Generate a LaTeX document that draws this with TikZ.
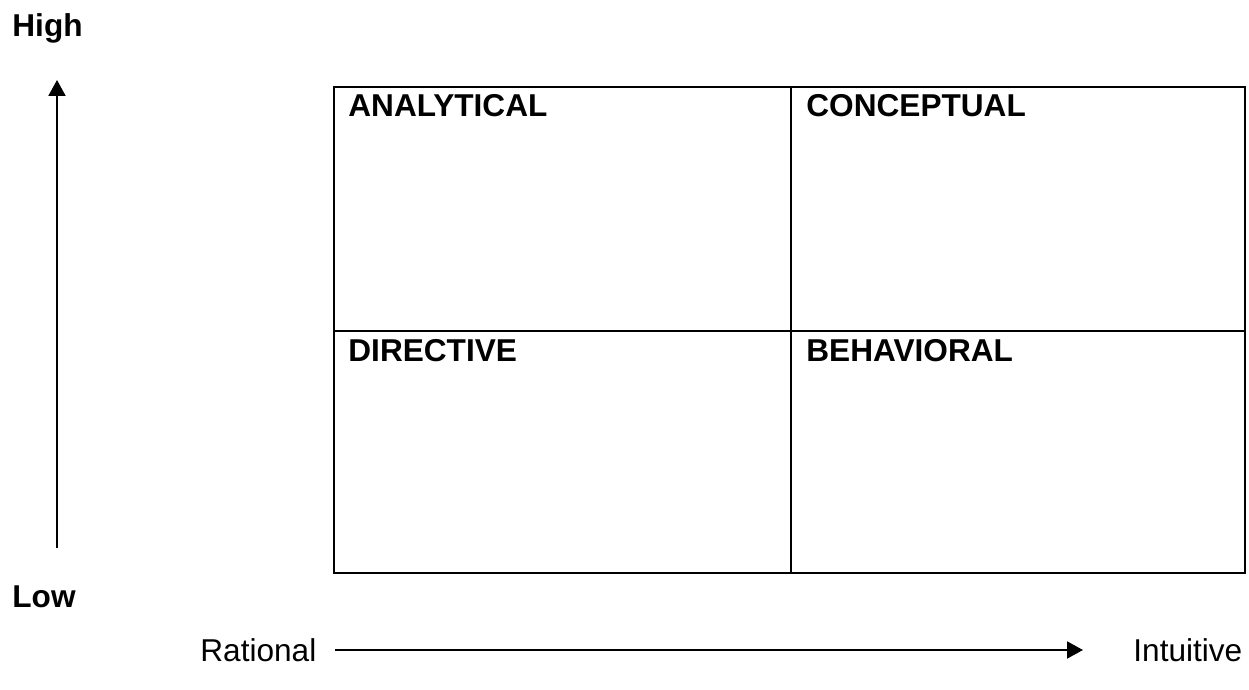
\documentclass[tikz,border=0pt]{standalone}
\usepackage{fontspec}
\setmainfont{Liberation Sans}
\usetikzlibrary{arrows.meta}

\begin{document}
\begin{tikzpicture}[x=0.5pt,y=-0.5pt,
  lbl/.style={anchor=base west,inner sep=0pt,font=\fontsize{15.8}{19}\selectfont},
  cell/.style={lbl,font=\fontsize{15.8}{19}\selectfont\bfseries},
  axis/.style={line width=1pt,-{Triangle[length=8pt,width=8.5pt]}}]
  \useasboundingbox (0,0) rectangle (1249,690);
  % the four quadrants
  \draw[line width=1pt] (334,87) rectangle (1245,573);
  \draw[line width=1pt] (791,87) -- (791,573);
  \draw[line width=1pt] (334,331) -- (1245,331);
  \node[cell] (analytical) at (348,117) {ANALYTICAL};
  \node[cell] (conceptual) at (806,117) {CONCEPTUAL};
  \node[cell] (directive) at (348,361) {DIRECTIVE};
  \node[cell] (behavioral) at (806,361) {BEHAVIORAL};
  % vertical axis
  \node[cell] (high) at (12,37) {High};
  \node[cell] (low) at (12,607) {Low};
  \coordinate (vbot) at (57,548);
  \coordinate (vtop) at (57,80);
  \draw[axis] (vbot) -- (vtop);
  % horizontal axis
  \node[lbl] (rational) at (200,661) {Rational};
  \node[lbl] (intuitive) at (1133,661) {Intuitive};
  \coordinate (hleft) at (335,650);
  \coordinate (hright) at (1083,650);
  \draw[axis] (hleft) -- (hright);
\end{tikzpicture}
\end{document}
